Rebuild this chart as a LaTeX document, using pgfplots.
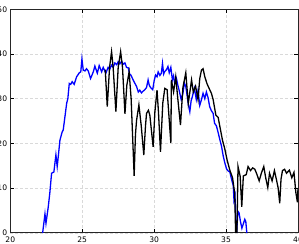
\documentclass[border=0pt]{standalone}
\usepackage{fontspec}
\setsansfont{DejaVu Sans}
\usepackage{pgfplots}
\pgfplotsset{compat=1.18}
\begin{document}
\begin{tikzpicture}
\begin{axis}[
  scale only axis, width=287.7pt, height=223.4pt,
  xmin=20, xmax=40, ymin=0, ymax=50,
  xtick={20,25,30,35,40}, ytick={0,10,20,30,40,50},
  tick align=inside, tick pos=both, major tick length=4pt,
  tick style={black, line width=0.6pt},
  grid=major, major grid style={gray!30, dash pattern=on 2.5pt off 2.5pt, line width=0.4pt},
  axis line style={black!85, line width=0.9pt},
  /pgf/number format/assume math mode=true,
  tick label style={font=\sffamily\fontsize{7.6}{8}\selectfont},
  xticklabel style={inner sep=0pt, yshift=-4pt},
  yticklabel style={inner sep=0pt, xshift=-3pt},
  clip=true,
]
\addplot[blue, line width=1.3pt] coordinates {
(22.2,-1)(22.25,0)(22.41,4.2)(22.48,2.1)(22.64,5.8)(22.75,9)(22.87,13.3)(23.03,13.6)
(23.17,17.4)(23.26,14.8)(23.35,17.5)(23.45,20.7)(23.6,22.5)(23.68,23)(23.8,26)(23.92,29)
(24.0,30)(24.1,33.4)(24.2,33.2)(24.3,33.8)(24.44,33.2)(24.61,34.9)(24.8,35.8)(24.9,36)
(24.98,38.9)(25.07,36.4)(25.19,36.2)(25.3,36.7)(25.42,36.2)(25.58,34.5)(25.77,36)(25.88,37.3)
(26.05,35.7)(26.18,37.4)(26.35,36)(26.46,37)(26.64,35.7)(26.8,37)(26.9,36.5)(27.04,37.5)
(27.15,37)(27.27,38)(27.4,37.6)(27.5,38.3)(27.62,37.8)(27.74,38.4)(27.85,37.7)(27.97,38)
(28.08,37)(28.2,36.9)(28.3,35.5)(28.38,35.3)(28.54,34.2)(28.65,33.5)(28.78,32.7)(28.9,31.5)
(29.0,31.9)(29.12,31.3)(29.24,31.7)(29.35,32)(29.47,32.5)(29.58,34.2)(29.66,33)(29.75,32.5)
(29.9,32)(30.0,34)(30.1,35.3)(30.2,34.9)(30.28,36)(30.4,35.2)(30.5,35.7)(30.58,37.9)
(30.66,35.5)(30.74,36.1)(30.86,36.5)(30.96,37.2)(31.05,35.8)(31.16,37)(31.27,34.2)(31.35,35.1)
(31.43,33.4)(31.55,34.5)(31.65,33)(31.72,32.1)(31.88,29.8)(32.0,31.2)(32.1,33.5)(32.2,32.7)
(32.3,30.5)(32.37,28.9)(32.48,27.1)(32.57,29.5)(32.65,30.4)(32.8,32.3)(32.93,29.8)(33.05,31.9)
(33.17,28.5)(33.29,29.8)(33.4,31.2)(33.52,30)(33.63,31.5)(33.75,30.2)(33.86,28.2)(33.98,27.3)
(34.1,26.7)(34.2,24.5)(34.33,23.9)(34.45,22.4)(34.56,20.9)(34.68,19.4)(34.8,17.2)(34.9,15.8)
(35.03,14.3)(35.15,13.8)(35.26,13.6)(35.37,12.1)(35.5,10.5)(35.55,7.3)(35.62,8.3)(35.72,-1)
(35.82,4.8)(35.9,4.5)(36.0,2.5)(36.1,1)(36.2,2)(36.3,3)(36.37,2.5)(36.47,-1)
};
\addplot[black, line width=1.3pt] coordinates {
(26.6,36.5)(26.74,28.2)(26.9,37)(27.04,40.5)(27.15,37)(27.34,27.1)(27.5,37)(27.67,40.5)
(27.8,37)(27.97,26.6)(28.1,33)(28.26,36)(28.4,30)(28.61,12.7)(28.7,22)(28.78,25.2)
(28.94,28.6)(29.1,24)(29.28,17.4)(29.4,24)(29.47,26.7)(29.6,27.4)(29.7,26.3)(29.93,19.2)
(30.05,27)(30.2,31.9)(30.3,27)(30.44,18.1)(30.6,29)(30.74,32.3)(30.9,32)(31.16,20.1)
(31.2,34.2)(31.35,31.5)(31.5,34.9)(31.65,29.8)(31.83,24.1)(32.0,32.5)(32.2,35.8)(32.37,28.9)
(32.6,34.2)(32.72,31.5)(32.88,32.8)(33.05,29.8)(33.17,34.5)(33.29,36.4)(33.4,36.7)(33.52,34.9)
(33.68,33.3)(33.82,32.3)(33.98,31.2)(34.1,29.8)(34.29,26.3)(34.45,25.8)(34.56,23.9)(34.75,20.7)
(34.9,18.9)(35.07,16.3)(35.26,14)(35.45,12.3)(35.6,8.8)(35.67,-1)(35.75,-1)(35.83,14.8)
(35.98,12.6)(36.09,5.8)(36.2,12.7)(36.4,13)(36.53,14.8)(36.7,13.9)(36.85,14.5)(37.0,14.2)
(37.15,13)(37.3,11.6)(37.45,13.3)(37.62,14.8)(37.76,12.2)(37.9,10.1)(38.02,13.3)(38.2,11.6)
(38.36,13.9)(38.5,11.9)(38.62,10)(38.73,6.6)(38.82,12)(38.92,13.9)(39.07,14.2)(39.2,13.3)
(39.4,14)(39.57,12.3)(39.72,13.5)(39.85,9)(39.96,6.8)(40,10)
};
\coordinate (bl) at (rel axis cs:0,0);
\coordinate (tr) at (rel axis cs:1,1);
\end{axis}
\pgfresetboundingbox
\path[use as bounding box] ([xshift=-10.3pt,yshift=-10.3pt]bl) rectangle ([xshift=1pt,yshift=9.3pt]tr);
\end{tikzpicture}
\end{document}
